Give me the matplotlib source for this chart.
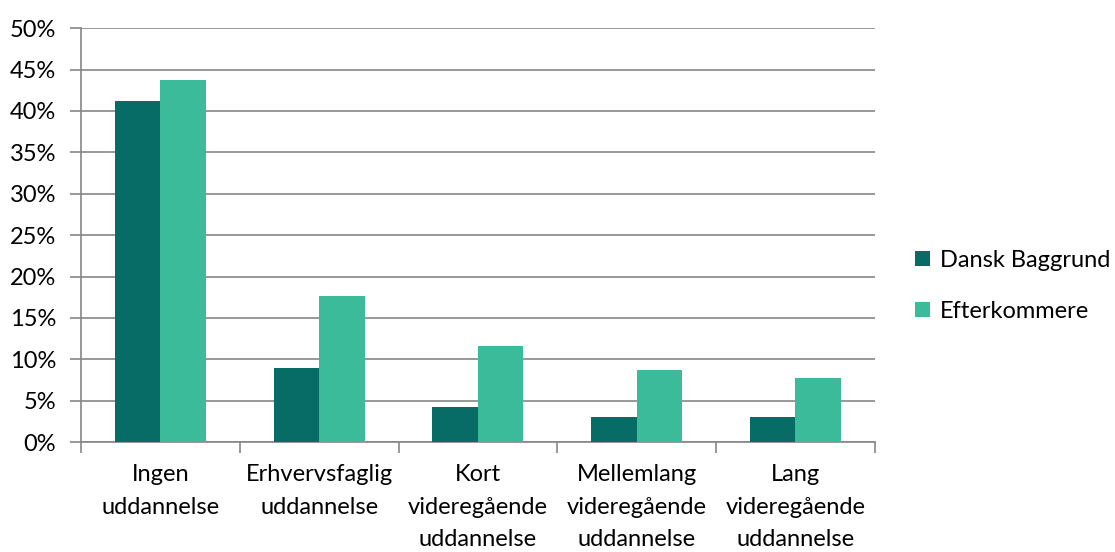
import matplotlib.pyplot as plt
from matplotlib.ticker import FuncFormatter
import numpy as np

plt.rcParams['font.family'] = ['Lato', 'DejaVu Sans']

categories = [
    'Ingen\nuddannelse',
    'Erhvervsfaglig\nuddannelse',
    'Kort\nvideregående\nuddannelse',
    'Mellemlang\nvideregående\nuddannelse',
    'Lang\nvideregående\nuddannelse',
]
dansk = [41.2, 9.0, 4.2, 3.0, 3.0]
efterkommere = [43.7, 17.6, 11.6, 8.7, 7.7]
series_names = ['Dansk Baggrund', 'Efterkommere']
colors = ['#076B66', '#3CBB9B']

fig = plt.figure(figsize=(11.15, 5.52), dpi=100)
ax = fig.add_axes([0.0726, 0.199, 0.712, 0.75])

x = np.arange(len(categories))
w = 0.287
ax.bar(x - w / 2, dansk, w, color=colors[0], label=series_names[0], zorder=3)
ax.bar(x + w / 2, efterkommere, w, color=colors[1], label=series_names[1], zorder=3)

ax.set_xlim(-0.5, len(categories) - 0.5)
ax.set_ylim(0, 50)
ax.set_yticks(np.arange(0, 51, 5))
ax.yaxis.set_major_formatter(FuncFormatter(lambda v, p: f'{v:.0f}%'))
ax.grid(axis='y', color='#868686', linewidth=1.2, zorder=0)

# category ticks sit between groups
ax.set_xticks(np.arange(-0.5, len(categories), 1))
ax.set_xticklabels([])
ax.set_xticks(x, minor=True)
ax.set_xticklabels(categories, minor=True, fontsize=17, linespacing=1.68)
ax.tick_params(axis='x', which='major', length=8, color='#868686', width=1.2)
ax.tick_params(axis='x', which='minor', length=0, pad=16)
ax.tick_params(axis='y', length=8, color='#868686', width=1.2, labelsize=17, pad=10)

for s in ['top', 'right']:
    ax.spines[s].set_visible(False)
for s in ['left', 'bottom']:
    ax.spines[s].set_color('#868686')
    ax.spines[s].set_linewidth(1.2)

fig.legend(handles=ax.get_legend_handles_labels()[0], labels=series_names,
           loc='center left', bbox_to_anchor=(0.821, 0.482), frameon=False,
           fontsize=17, handlelength=0.6, handleheight=0.6, handletextpad=0.45,
           labelspacing=1.25, borderpad=0, borderaxespad=0)

fig.savefig('out.png', dpi=100)
